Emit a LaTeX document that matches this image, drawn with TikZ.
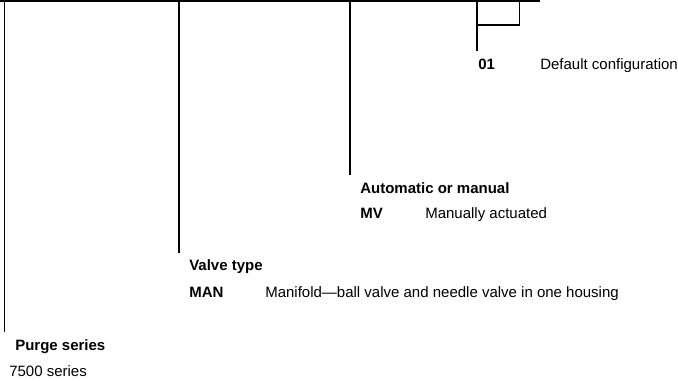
\documentclass[tikz,border=0pt]{standalone}
\usepackage{fontspec}
\setmainfont{Liberation Sans}
\newcommand{\codesize}{\fontsize{11.25}{13.5}\selectfont}
\begin{document}
\begin{tikzpicture}[x=0.75pt,y=-0.75pt]
    \tikzset{
        head/.style={anchor=base west, inner sep=0pt, font=\codesize\bfseries},
        code/.style={anchor=base west, inner sep=0pt, font=\codesize\bfseries},
        desc/.style={anchor=base west, inner sep=0pt, font=\codesize},
        leader/.style={line width=1pt},
        bar/.style={line width=1.6pt}
    }
    \useasboundingbox (0,0) rectangle (678,381);

    \coordinate (b0) at (0,1);
    \coordinate (b1) at (540,1);
    \coordinate (p0) at (4.5,1);
    \coordinate (p1) at (4.5,332);
    \coordinate (v0) at (179,1);
    \coordinate (v1) at (179,253);
    \coordinate (a0) at (350,1);
    \coordinate (a1) at (350,175);
    \coordinate (k0) at (477,1);
    \coordinate (k1) at (477,51);
    \coordinate (k2) at (519.7,1);
    \coordinate (k3) at (519.7,25);
    \coordinate (k4) at (476.4,25);
    \coordinate (k5) at (520.3,25);

    \draw node[head] (purge) at (15,350) {Purge series};
    \draw node[desc] (purgeopt) at (9,376) {7500 series};
    \draw node[head] (valve) at (189,270) {Valve type};
    \draw node[code] (man) at (189,297) {MAN};
    \draw node[desc] (mandesc) at (265,297) {Manifold---ball valve and needle valve in one housing};
    \draw node[head] (auto) at (360,194) {Automatic or manual};
    \draw node[code] (mv) at (360,219) {MV};
    \draw node[desc] (mvdesc) at (425,219) {Manually actuated};
    \draw node[code] (dflt) at (478,70) {01};
    \draw node[desc] (dfltdesc) at (540,70) {Default configuration};

    \draw[bar] (b0) -- (b1);
    \foreach \x/\y in {%
        p0/p1,v0/v1,a0/a1,k0/k1,k2/k3,k4/k5%
    }{
        \draw[leader] (\x) -- (\y);
    }
\end{tikzpicture}
\end{document}
